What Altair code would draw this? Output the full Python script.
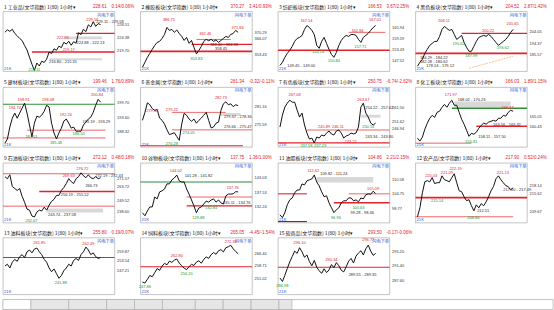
import altair as alt
import pandas as pd

FONT = "Noto Sans CJK SC"
NUMFONT = "Liberation Sans"
RED = "#e3222b"
GREEN = "#15982a"
DARK = "#2a2a2a"
BLUE = "#1d57d8"
COLOR = {"r": RED, "g": GREEN, "k": DARK, "G": "#2f8f3a", "o": "#f2a463", "m": "#8c1c4c"}
WIDTH = {"thick": 1.6, "mid": 1.1, "thin": 0.7}

W = 112
ROW_H = [60, 60, 60, 57]
X_DOMAIN = [-0.8, 44.7]
XE = 44.7

# ---------------- headers ----------------
NAMES = ["工业品", "橡胶板块", "纺织板块", "黑色板块", "建材板块", "贵金属", "有色板块", "化工板块",
         "石油板块", "谷物板块", "油脂板块", "农产品", "油料板块", "饲料板块", "软商品"]
PRICES = ["228.61", "370.27", "166.53", "204.52", "199.46", "281.34", "250.75", "166.03",
          "272.12", "137.75", "104.86", "217.90", "255.80", "265.05", "293.50"]
CHANGES = ["0.14/0.06%", "3.41/0.93%", "3.67/2.25%", "2.87/1.42%", "1.76/0.89%", "-0.32/-0.11%",
           "-6.74/-2.62%", "1.89/1.15%", "0.48/0.18%", "1.36/1.00%", "2.21/2.15%", "0.52/0.24%",
           "0.19/0.07%", "-4.45/-1.54%", "-0.17/-0.06%"]
TAG = "闪电下单"
CORNER = "21K"

# ---------------- series (hourly closes) ----------------
P1_CLOSE = [226.0, 226.8, 226.3, 227.0, 225.6, 224.8, 223.9, 223.2, 221.5, 220.0, 217.6, 215.2, 213.1, 215.6,
            214.6, 216.2, 215.8, 216.9, 219.3, 218.8, 220.4, 219.9, 221.3, 220.8, 222.6, 222.0, 222.95, 221.6,
            222.8, 222.3, 225.8, 225.2, 227.0, 226.2, 228.5, 227.8, 229.58, 228.0, 228.9, 228.6]
P2_CLOSE = [344.2, 347.9, 351.6, 354.6, 357.6, 360.6, 362.8, 363.6, 365.8, 368.8, 374.0, 371.8, 372.5, 370.3,
            372.1, 369.5, 367.3, 364.3, 366.5, 362.1, 364.3, 359.1, 354.2, 356.8, 359.8, 363.6, 365.1, 364.0,
            365.1, 363.6, 364.7, 362.8, 364.3, 365.8, 367.3, 366.5, 368.8, 369.5, 371.8, 370.3]
P3_CLOSE = [144.8, 146.5, 149.3, 151.5, 153.2, 155.4, 158.2, 159.8, 160.4, 161.5, 164.8, 167.0, 165.9, 164.3,
            162.0, 155.9, 154.3, 158.2, 160.4, 157.0, 153.7, 150.9, 149.3, 152.0, 155.9, 158.7, 160.4, 161.5,
            160.9, 162.0, 162.0, 161.5, 159.3, 157.6, 160.4, 161.5, 162.6, 164.3, 165.9, 167.0]
P4_CLOSE = [175.9, 179.1, 181.5, 186.3, 189.6, 192.8, 194.4, 196.0, 196.0, 200.0, 205.7, 208.1, 206.5, 204.9,
            205.7, 201.7, 197.6, 199.2, 200.9, 195.2, 191.2, 188.0, 188.0, 192.0, 196.0, 199.2, 200.1, 200.9,
            200.1, 201.7, 200.1, 197.6, 195.2, 192.8, 194.4, 196.0, 197.6, 200.1, 203.3, 205.7]
P5_CLOSE = [183.9, 185.5, 190.1, 193.5, 195.5, 193.5, 195.5, 197.4, 199.3, 195.5, 190.9, 186.3, 191.6, 194.3,
            193.9, 194.7, 196.2, 198.5, 197.8, 191.6, 187.8, 185.5, 187.8, 189.7, 192.4, 193.2, 191.6, 189.7,
            190.1, 188.5, 188.5, 188.5, 190.9, 192.0, 193.2, 193.9, 195.8, 198.5, 200.8, 199.7]
P6_CLOSE = [276.9, 279.4, 282.4, 281.8, 280.6, 280.0, 280.3, 277.6, 276.9, 275.7, 273.9, 272.4, 272.7, 273.0,
            271.8, 270.6, 275.7, 279.1, 278.5, 277.3, 276.6, 277.3, 276.0, 276.9, 277.6, 278.5, 279.4, 276.9,
            274.5, 274.8, 276.0, 276.3, 280.0, 282.1, 282.7, 281.8, 282.1, 281.2, 281.8, 281.5]
P7_CLOSE = [248.1, 256.2, 261.7, 264.4, 266.4, 265.0, 265.0, 259.6, 254.9, 257.6, 249.5, 244.0, 239.9, 240.6,
            237.3, 241.3, 240.6, 242.7, 242.0, 244.0, 245.4, 243.4, 242.7, 245.4, 246.1, 244.0, 240.6, 242.0,
            242.7, 244.0, 243.4, 244.0, 248.1, 261.7, 264.4, 257.6, 254.9, 250.8, 249.5, 250.8]
P8_CLOSE = [155.4, 154.1, 155.8, 159.3, 161.9, 164.1, 165.4, 164.5, 166.7, 167.2, 168.9, 170.2, 168.9, 170.7,
            172.0, 169.8, 169.8, 166.7, 163.7, 161.5, 158.9, 156.2, 157.5, 157.1, 158.0, 159.7, 161.0, 162.0,
            161.5, 162.4, 162.8, 163.2, 162.8, 164.1, 164.1, 165.4, 165.0, 166.7, 167.6, 167.2]
P9_CLOSE = [272.9, 271.0, 274.8, 263.3, 261.4, 259.5, 261.4, 253.7, 248.0, 241.3, 240.3, 234.6, 233.6, 238.4,
            240.3, 239.4, 243.2, 240.3, 245.1, 248.9, 250.8, 254.7, 254.7, 259.5, 262.4, 266.2, 271.0, 268.1,
            266.2, 271.0, 272.9, 276.7, 273.8, 271.9, 274.8, 271.9, 271.0, 272.9, 271.0, 271.9]
P10_CLOSE = [129.9, 128.8, 130.6, 132.1, 132.1, 135.8, 135.1, 137.7, 138.1, 138.8, 140.7, 140.7, 142.2, 142.9,
             144.0, 141.8, 141.4, 141.4, 138.8, 136.9, 134.7, 132.5, 129.9, 131.7, 132.1, 133.2, 134.3, 133.9,
             134.7, 135.1, 133.9, 134.7, 133.6, 133.2, 136.2, 136.9, 136.9, 137.0, 137.8, 137.7]
P11_CLOSE = [96.1, 94.9, 97.0, 100.3, 102.3, 103.1, 105.2, 106.4, 106.4, 108.9, 108.5, 110.2, 110.6, 111.0,
             112.6, 109.7, 108.1, 105.6, 103.6, 104.0, 101.1, 99.0, 97.0, 98.2, 99.0, 101.1, 101.9, 101.9,
             103.1, 103.1, 101.9, 102.3, 101.5, 103.1, 102.7, 104.4, 104.8, 104.6, 105.9, 104.9]
P12_CLOSE = [207.8, 210.8, 215.8, 219.5, 219.9, 219.5, 220.9, 218.9, 219.2, 219.2, 221.5, 220.2, 219.9, 219.5,
             220.9, 222.2, 219.2, 216.5, 216.2, 214.5, 213.2, 213.5, 211.5, 209.8, 211.8, 210.8, 212.2, 211.5,
             212.8, 214.5, 216.5, 217.9, 220.5, 221.5, 220.2, 219.2, 218.2, 217.9, 216.8, 217.5]
P13_CLOSE = [250.0, 251.2, 248.7, 252.5, 254.4, 253.1, 256.2, 257.5, 255.6, 259.4, 260.6, 258.7, 261.2, 261.9,
             259.4, 257.5, 254.4, 252.5, 248.7, 246.2, 248.1, 245.0, 241.9, 243.7, 246.9, 248.7, 251.2, 250.0,
             253.7, 255.0, 253.7, 257.5, 259.4, 262.5, 260.6, 257.5, 258.7, 256.2, 255.0, 255.6]
P14_CLOSE = [248.5, 247.9, 250.2, 252.6, 251.8, 254.3, 256.9, 255.8, 258.4, 260.1, 259.2, 261.5, 260.7, 262.1,
             262.8, 260.3, 258.6, 257.1, 256.2, 258.0, 259.5, 258.8, 260.9, 261.7, 260.2, 262.6, 264.1, 263.2,
             265.5, 266.8, 265.7, 267.9, 268.6, 267.2, 269.8, 270.4, 271.3, 269.1, 267.5, 266.0]
P15_CLOSE = [288.2, 287.3, 288.9, 290.7, 292.4, 293.8, 295.2, 294.6, 296.1, 295.0, 293.6, 294.2, 292.5, 291.4,
             292.8, 291.0, 290.1, 289.4, 290.6, 289.6, 290.3, 291.7, 290.9, 292.2, 291.4, 290.2, 289.8, 291.1,
             292.6, 293.3, 292.1, 293.9, 294.7, 295.3, 294.2, 295.8, 296.77, 295.2, 294.1, 294.6]

# ---------------- value windows & right-axis labels ----------------
YDOMS = [[212.8, 233.0], [341.2, 385.9], [141.5, 174.8], [171.8, 220.2], [182.4, 205.45],
         [268.5, 287.3], [234.5, 275.2], [151.5, 177.7], [228.0, 286.3], [126.2, 148.5],
         [92.8, 117.6], [205.8, 225.8], [231.2, 268.7], [240.8, 276.0], [283.9, 298.7]]
TICKS = [[228.51, 224.38, 219.70], [370.29, 366.07, 353.43], [165.94, 159.59, 153.43, 147.52],
         [204.05, 194.37, 185.57], [199.70, 193.60, 188.32], [281.16, 275.59],
         [261.50, 251.62, 246.94], [165.05, 160.43], [271.57, 263.72, 249.52, 238.60],
         [143.03, 137.53, 132.24], [110.58, 104.75, 98.77], [218.14, 215.62, 209.67],
         [259.87, 253.54, 247.21], [266.40, 258.71, 251.02], [295.20, 291.40, 287.60]]

# ---------------- support / resistance levels: (value, from, to, colour, weight) ----------------
P1_LEVELS = [(219.3, 11, XE, "r", "thick"), (225.6, 29, XE, "r", "mid")]
P2_LEVELS = [(356.1, -0.8, XE, "r", "thick"), (361.3, 20, XE, "r", "mid"), (365.0, 22, 36, "r", "thin")]
P3_LEVELS = [(153.2, -0.8, XE, "r", "thick"), (163.2, 28, 43, "r", "thin")]
P4_LEVELS = [(186.3, -0.8, XE, "r", "thick"), (202.5, 18, XE, "r", "mid")]
P5_LEVELS = [(198.9, -0.8, XE, "G", "mid"), (188.9, 9, 41, "r", "thin"), (185.9, -0.8, 41, "r", "thin")]
P6_LEVELS = [(279.4, 12, 34, "r", "thin"), (273.9, 12, XE, "r", "thin"), (268.9, -0.8, 41, "r", "mid")]
P7_LEVELS = [(246.1, 11, XE, "r", "thin"), (237.3, -0.8, XE, "r", "mid")]
P8_LEVELS = [(168.5, 14, XE, "G", "thick"), (160.6, 24, XE, "r", "thick"), (153.2, -0.8, 22, "r", "thin")]
P9_LEVELS = [(275.8, -0.8, XE, "r", "thin"), (258.5, 14, XE, "r", "thick"), (244.2, -0.8, XE, "r", "thin")]
P10_LEVELS = [(141.4, -0.8, XE, "G", "mid"), (135.8, 18, XE, "r", "thin"), (132.5, 18, XE, "r", "mid")]
P11_LEVELS = [(104.8, -0.8, 11, "r", "mid"), (101.1, 22, XE, "r", "thick"), (104.8, 28, XE, "r", "thin"),
              (93.3, -0.8, 11, "m", "mid")]
P12_LEVELS = [(214.2, -0.8, XE, "r", "thick"), (207.8, -0.8, 39, "r", "thin")]
P13_LEVELS = [(255.6, -0.8, XE, "r", "mid")]
P14_LEVELS = [(258.0, -0.8, XE, "r", "mid")]
P15_LEVELS = [(291.0, -0.8, XE, "r", "mid")]

# ---------------- shaded ranges: (low, high, from, to) ----------------
P1_BANDS = [(223.6, 224.6, 24, 39.5), (216.5, 217.2, 18, 39.5)]
P6_BANDS = [(278.3, 279.2, 32, 40)]
P7_BANDS = [(254.5, 256.5, 33, 41)]
P8_BANDS = [(168.8, 171.5, 15, 38)]
P9_BANDS = [(238.0, 242.0, 17, 40)]
P11_BANDS = [(109.5, 111.8, 15, 38)]

# ---------------- trend segments: (from, value, to, value) ----------------
P4_TREND = [(21, 174.3, 39, 184.0)]

# ---------------- price notes: (index, value, text, colour, align) ----------------
P1_NOTES = [(35.6, 230.0, "229.56", "r", "center"), (37.2, 229.3, "229.11 - 229.58", "k", "left"),
            (23.6, 224.2, "222.95", "r", "center"), (29.2, 222.2, "224.88 - 222.13", "k", "left"),
            (26, 219.9, "219.17", "r", "center"), (18, 216.0, "216.80 - 215.31", "k", "left"),
            (12, 213.3, "213.11", "g", "center")]
P2_NOTES = [(10.8, 379.2, "386.75", "r", "center"), (25.6, 368.8, "362.46", "r", "center"),
            (38.8, 373.5, "371.84", "r", "center"), (27.6, 361.0, "366.40 - 366.36", "k", "left"),
            (29.6, 357.6, "358.45", "k", "left"), (22, 350.1, "353.83", "g", "center")]
P3_NOTES = [(10.8, 169.3, "167.54", "r", "center"), (15.6, 152.0, "154.03", "g", "center"),
            (22, 147.0, "150.84", "g", "center"), (31.6, 163.7, "162.84", "r", "center"),
            (32.8, 154.8, "157.71", "g", "center"), (38.8, 169.8, "167.01", "r", "center"),
            (3.0, 144.6, "149.45 - 149.00", "k", "left")]
P4_NOTES = [(10.8, 212.9, "208.11", "r", "center"), (16.8, 193.6, "195.62", "g", "center"),
            (22, 183.9, "187.99", "g", "center"), (28.8, 204.1, "200.22", "r", "center"),
            (34.8, 190.4, "193.62", "g", "center"), (38.8, 209.7, "205.65", "r", "center"),
            (1.0, 182.2, "184.29 - 184.22", "k", "left"), (1.0, 179.0, "182.28 - 180.62", "k", "left"),
            (3.6, 175.8, "178.24 - 179.12", "k", "left")]
P5_NOTES = [(7.6, 200.5, "198.91", "r", "center"), (4, 197.4, "194.74", "r", "center"),
            (17.6, 200.5, "198.48", "r", "center"), (24.8, 194.7, "192.26", "r", "center"),
            (10.8, 186.2, "187.51", "g", "center"), (20.8, 183.9, "185.48", "g", "center"),
            (30, 187.4, "188.50", "g", "center"), (31.6, 192.0, "193.19 - 193.29", "k", "left"),
            (37.6, 202.4, "200.84", "r", "center")]
P6_NOTES = [(4, 279.7, "279.68", "r", "center"), (12, 280.3, "279.22", "r", "center"),
            (32, 283.9, "282.73", "r", "center"), (33.2, 277.9, "279.37 - 278.36", "k", "left"),
            (33.2, 274.8, "276.66 - 275.47", "k", "left"), (18.8, 273.0, "274.05", "g", "center"),
            (12, 269.6, "270.28", "g", "center")]
P7_NOTES = [(6, 269.8, "267.08", "r", "center"), (34, 266.4, "263.67", "r", "center"),
            (34.8, 261.0, "254.22 - 257.62", "k", "left"), (36, 248.1, "250.53", "g", "center"),
            (18, 248.1, "245.89", "r", "center"), (23.6, 248.1, "246.11", "r", "center"),
            (34.8, 241.3, "243.34 - 243.80", "k", "left"), (28.8, 237.9, "243.22", "r", "center"),
            (10.8, 235.3, "237.58", "g", "center"), (16.4, 235.3, "237.23", "g", "center")]
P8_NOTES = [(13.6, 174.2, "171.97", "r", "center"), (16.4, 172.0, "168.02 - 170.23", "k", "left"),
            (36.8, 168.5, "166.17", "r", "center"), (30.8, 161.0, "163.56 - 163.32", "k", "left"),
            (24.8, 155.8, "158.11 - 157.50", "k", "left"), (22, 153.6, "155.81", "g", "center")]
P9_NOTES = [(31.6, 280.5, "276.72", "r", "center"), (26, 273.8, "269.63", "r", "center"),
            (36.8, 273.8, "272.19 - 272.43", "k", "left"), (32.8, 264.3, "266.73", "k", "left"),
            (22.8, 254.7, "256.19 - 255.52", "k", "left"), (17.6, 235.5, "243.74 - 237.58", "k", "left"),
            (10.8, 229.6, "232.67", "g", "center")]
P10_NOTES = [(13.6, 145.5, "144.02", "r", "center"), (17.2, 143.6, "141.28 - 141.82", "k", "left"),
             (36.8, 139.2, "137.76", "r", "center"), (32.8, 133.6, "135.11 - 134.76", "k", "left"),
             (28, 131.7, "132.84", "g", "center"), (22.8, 128.0, "129.88", "g", "center")]
P11_NOTES = [(13.6, 114.3, "112.62", "r", "center"), (16.4, 113.0, "109.82 - 111.24", "k", "left"),
             (38, 106.8, "105.09", "r", "center"), (32, 99.0, "100.63", "g", "center"),
             (28.8, 97.0, "99.28 - 98.46", "k", "left"), (22.8, 94.9, "96.96", "g", "center")]
P12_NOTES = [(5.6, 221.5, "220.03", "r", "center"), (12, 222.5, "221.09", "r", "center"),
             (15.6, 223.9, "222.19", "r", "center"), (34.8, 222.5, "221.13", "r", "center"),
             (8, 213.2, "215.14", "g", "center"), (26.8, 209.8, "212.51", "k", "center"),
             (22.8, 207.5, "208.84", "g", "center"), (35.0, 216.9, "217.50 - 217.49", "k", "left")]
P13_NOTES = [(14, 265.0, "261.85", "r", "center"), (34, 264.4, "262.49", "r", "center"),
             (22.8, 238.7, "241.88", "g", "center")]
P14_NOTES = [(36, 273.3, "271.33", "r", "center"), (14, 264.8, "262.80", "r", "center"),
             (18, 253.8, "256.20", "g", "center"), (1, 245.5, "247.86", "g", "center")]
P15_NOTES = [(8, 297.4, "296.10", "r", "center"), (36, 298.0, "296.77", "r", "center"),
             (21, 292.9, "290.34", "r", "center"), (1, 286.0, "286.98", "g", "center"),
             (28, 289.0, "289.55 - 289.35", "k", "left")]

CLOSES = [P1_CLOSE, P2_CLOSE, P3_CLOSE, P4_CLOSE, P5_CLOSE, P6_CLOSE, P7_CLOSE, P8_CLOSE,
          P9_CLOSE, P10_CLOSE, P11_CLOSE, P12_CLOSE, P13_CLOSE, P14_CLOSE, P15_CLOSE]
LEVELS = [P1_LEVELS, P2_LEVELS, P3_LEVELS, P4_LEVELS, P5_LEVELS, P6_LEVELS, P7_LEVELS, P8_LEVELS,
          P9_LEVELS, P10_LEVELS, P11_LEVELS, P12_LEVELS, P13_LEVELS, P14_LEVELS, P15_LEVELS]
BANDS = [P1_BANDS, [], [], [], [], P6_BANDS, P7_BANDS, P8_BANDS, P9_BANDS, [], P11_BANDS, [], [], [], []]
TRENDS = [[], [], [], P4_TREND] + [[] for _ in range(11)]
NOTES = [P1_NOTES, P2_NOTES, P3_NOTES, P4_NOTES, P5_NOTES, P6_NOTES, P7_NOTES, P8_NOTES,
         P9_NOTES, P10_NOTES, P11_NOTES, P12_NOTES, P13_NOTES, P14_NOTES, P15_NOTES]

TABS = ["自定板块", "外盘主力合约", "商品分类指数", "外汇汇率", "沪深股市", "多周期同列", "期权看盘", "期货看盘", "外汇看盘", "+"]


def panel(k, h):
    xs = alt.Scale(domain=X_DOMAIN, nice=False, zero=False)
    ys = alt.Scale(domain=YDOMS[k], nice=False, zero=False)
    yaxis = alt.Axis(orient="right", values=TICKS[k], format=".2f", ticks=False, domain=False, grid=False,
                     labelFontSize=4, labelColor="#333333", labelPadding=2, title=None,
                     labelFont=NUMFONT, labelOverlap=False, minExtent=22, maxExtent=22)
    xenc = lambda f: alt.X(f, scale=xs, axis=None)
    yenc = lambda f: alt.Y(f, scale=ys, axis=yaxis)
    layers = []
    if BANDS[k]:
        bdf = pd.DataFrame(BANDS[k], columns=["lo", "hi", "x0", "x1"])
        layers.append(alt.Chart(bdf).mark_rect(color="#d8d8d8").encode(
            x=xenc("x0:Q"), x2="x1:Q", y=yenc("lo:Q"), y2="hi:Q"))
    ldf = pd.DataFrame(LEVELS[k], columns=["v", "x0", "x1", "c", "w"])
    ldf["c"] = ldf["c"].map(COLOR)
    ldf["w"] = ldf["w"].map(WIDTH)
    layers.append(alt.Chart(ldf).mark_rule().encode(
        x=xenc("x0:Q"), x2="x1:Q", y=yenc("v:Q"),
        color=alt.Color("c:N", scale=None), strokeWidth=alt.StrokeWidth("w:Q", scale=None)))
    if TRENDS[k]:
        tdf = pd.DataFrame(TRENDS[k], columns=["x0", "v0", "x1", "v1"])
        layers.append(alt.Chart(tdf).mark_rule(color=COLOR["o"], strokeWidth=0.7, strokeDash=[2, 1]).encode(
            x=xenc("x0:Q"), x2="x1:Q", y=yenc("v0:Q"), y2="v1:Q"))
    df = pd.DataFrame({"i": list(range(len(CLOSES[k]))), "v": CLOSES[k]})
    layers.append(alt.Chart(df).mark_line(color="#111111", strokeWidth=1.0).encode(
        x=xenc("i:Q"), y=yenc("v:Q")))
    ndf = pd.DataFrame(NOTES[k], columns=["i", "v", "t", "c", "a"])
    ndf["c"] = ndf["c"].map(COLOR)
    for al in ["center", "left"]:
        sub = ndf[ndf["a"] == al]
        if len(sub):
            layers.append(alt.Chart(sub).mark_text(fontSize=4, font=NUMFONT, align=al, baseline="middle").encode(
                x=xenc("i:Q"), y=yenc("v:Q"), text="t:N", color=alt.Color("c:N", scale=None)))
    hdr = pd.DataFrame({"n": [f"{k + 1}  {NAMES[k]}(文华指数)  1(80)   1小时▾"],
                        "p": [PRICES[k]], "c": [CHANGES[k]], "tag": [TAG], "corner": [CORNER]})
    base = alt.Chart(hdr)
    layers.append(base.mark_text(fontSize=5, font=FONT, align="left", baseline="middle", color="#111111").encode(
        x=alt.value(1), y=alt.value(-5), text="n:N"))
    layers.append(base.mark_text(fontSize=4.5, font=NUMFONT, align="right", baseline="middle", color=RED).encode(
        x=alt.value(104), y=alt.value(-5), text="p:N"))
    layers.append(base.mark_text(fontSize=4.5, font=NUMFONT, align="left", baseline="middle", color=RED).encode(
        x=alt.value(109), y=alt.value(-5), text="c:N"))
    layers.append(base.mark_text(fontSize=4.2, font=FONT, align="center", baseline="middle", color=BLUE).encode(
        x=alt.value(103), y=alt.value(4), text="tag:N"))
    layers.append(base.mark_text(fontSize=4.2, font=NUMFONT, align="left", baseline="middle", color=BLUE).encode(
        x=alt.value(1), y=alt.value(h - 2.5), text="corner:N"))
    return alt.layer(*layers).properties(width=W, height=h)


rows = []
for r in range(4):
    panels = [panel(k, ROW_H[r]) for k in range(r * 4, min(r * 4 + 4, 15))]
    rows.append(alt.hconcat(*panels, spacing=26, bounds="flush"))
grid = alt.vconcat(*rows, spacing=5)

widths = [len(t) * 5 + 8 for t in TABS]
starts = [sum(widths[:j]) for j in range(len(TABS))]
tdf = pd.DataFrame({"t": TABS, "x0": starts, "x1": [s + w for s, w in zip(starts, widths)],
                    "sel": ["y"] + ["n"] * (len(TABS) - 1)})
tdf["xm"] = (tdf["x0"] + tdf["x1"]) / 2
tx = alt.Scale(domain=[0, 552], nice=False, zero=False)
tab_rect = alt.Chart(tdf).mark_rect(stroke="#a0a0a0", strokeWidth=0.5).encode(
    x=alt.X("x0:Q", scale=tx, axis=None), x2="x1:Q",
    color=alt.Color("sel:N", scale=alt.Scale(domain=["y", "n"], range=["#ffffff", "#e6e6e6"]), legend=None))
tab_text = alt.Chart(tdf).mark_text(fontSize=5, font=FONT, baseline="middle").encode(
    x=alt.X("xm:Q", scale=tx, axis=None), y=alt.value(5), text="t:N",
    color=alt.Color("sel:N", scale=alt.Scale(domain=["y", "n"], range=[BLUE, "#222222"]), legend=None))
tabs = alt.layer(tab_rect, tab_text).properties(width=552, height=10)

chart = alt.vconcat(grid, tabs, spacing=3).properties(
    background="#ffffff", padding={"left": 2, "top": 2, "right": 0, "bottom": 0}
).configure_view(stroke="#9c9c9c", strokeWidth=0.6, fill="#ffffff")

chart.save("out.html", embed_options={"renderer": "svg", "actions": False})
